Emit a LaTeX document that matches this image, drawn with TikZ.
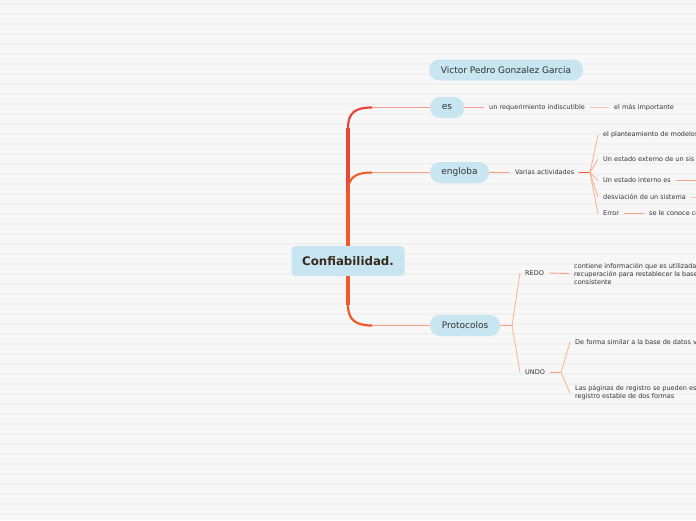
\documentclass[tikz,border=0pt]{standalone}
\usepackage{fontspec}
\setmainfont{DejaVu Sans}
\definecolor{bgc}{HTML}{F7F7F7}
\definecolor{stripec}{HTML}{F1F1F1}
\definecolor{pillc}{HTML}{C7E6F1}
\definecolor{txt}{HTML}{333333}
\definecolor{ctxt}{HTML}{3A2A1E}
\definecolor{trunkA}{HTML}{E8463A}
\definecolor{trunkB}{HTML}{EF5A28}
\definecolor{esl}{HTML}{F49A8E}
\definecolor{esl2}{HTML}{F8C2BA}
\definecolor{enl}{HTML}{F5A282}
\definecolor{fanthick}{HTML}{F05A22}
\definecolor{fanl}{HTML}{F7B49A}
\definecolor{prl}{HTML}{F6A07E}
\definecolor{prfan}{HTML}{F8B89C}
\begin{document}
\begin{tikzpicture}[x=1pt,y=-1pt,
  pill/.style={fill=pillc, rounded corners=10pt, minimum height=21pt, inner xsep=0pt, font=\fontsize{9}{10}\selectfont, text=txt},
  central/.style={fill=pillc, rounded corners=4pt, minimum height=30pt, minimum width=113pt, font=\bfseries\fontsize{11.8}{13}\selectfont, text=ctxt},
  leaf/.style={font=\fontsize{6.5}{8}\selectfont, text=txt, inner xsep=5pt, inner ysep=1pt, anchor=west, align=left},
  thin/.style={line width=0.9pt},
  thk/.style={line width=1.6pt}]
\useasboundingbox (0,0) rectangle (696,520);
\clip (0,0) rectangle (696,520);
\fill[bgc] (0,0) rectangle (696,520);
\foreach \y in {3,13,...,513} \fill[stripec] (0,\y) rectangle (696,\y+1.6);

% nodes
\node[central] (c) at (348,261) {Confiabilidad.};
\node[pill, minimum width=154pt] (v) at (506,70) {Victor Pedro Gonzalez Garcia};
\node[pill, minimum width=34pt] (es) at (447,107.5) {es};
\node[pill, minimum width=59pt] (en) at (459.5,172.5) {engloba};
\node[pill, minimum width=70pt] (pr) at (465,325.5) {Protocolos};

% trunk
\coordinate (tEs) at (348,128);
\coordinate (cEs) at (372,107.5);
\coordinate (tEn) at (348,192);
\coordinate (cEn) at (372,172.5);
\coordinate (tPr) at (348,305);
\coordinate (cPr) at (372,325.5);
\draw[trunkA, line width=3.6pt] (c.north -| tEs) -- (tEs);
\draw[trunkB, line width=3.6pt] (c.north -| tEs) -- (tEn);
\draw[trunkB, line width=3.6pt] (c.south -| tPr) -- (tPr);
\draw[trunkA, line width=2.2pt] (tEs) .. controls (348,112) and (356,107.5) .. (cEs);
\draw[trunkB, line width=2pt] (tEn) .. controls (348,177) and (356,172.5) .. (cEn);
\draw[trunkB, line width=2.2pt] (tPr) .. controls (348,320) and (356,325.5) .. (cPr);
\draw[esl, thin] (cEs) -- (es.west);
\draw[enl, thin] (cEn) -- (en.west);
\draw[prl, thin] (cPr) -- (pr.west);

% es branch
\node[leaf] (req) at (484,107.5) {un requerimiento indiscutible};
\node[leaf] (imp) at (609,107.5) {el más importante};
\draw[esl, thin] (es.east) -- (req.west);
\draw[esl2, thin] (req.east) -- (imp.west);

% engloba branch
\node[leaf] (va) at (510,172.5) {Varias actividades};
\coordinate (fa) at (590,172.5);
\draw[enl, thin] (en.east) -- (va.west);
\draw[fanthick, thk] (va.east) -- (fa);
\node[leaf] (pl) at (598,135) {el planteamiento de modelos};
\node[leaf] (ext) at (598,159) {Un estado externo de un sis};
\node[leaf] (int) at (598,180.5) {Un estado interno es};
\node[leaf] (des) at (598,197) {desviación de un sistema};
\node[leaf] (err) at (598,213.5) {Error};
\node[leaf] (con) at (644,213.5) {se le conoce co};
\coordinate (intx) at (700,180.5);
\coordinate (desx) at (700,197);
\foreach \n in {pl,ext,int,des,err} \draw[fanl, thin] (fa) -- (\n.west);
\draw[enl, thin] (int.east) -- (intx);
\draw[esl2, thin] (des.east) -- (desx);
\draw[enl, thin] (err.east) -- (con.west);

% Protocolos branch
\coordinate (fp) at (512,325.5);
\draw[prl, thk] (pr.east) -- (fp);
\node[leaf] (redo) at (520,273) {REDO};
\node[leaf] (undo) at (520,372.5) {UNDO};
\draw[prfan, thin] (fp) -- (redo.west);
\draw[prfan, thin] (fp) -- (undo.west);
\node[leaf] (info) at (569,273.5) {contiene información que es utilizada\\recuperación para restablecer la base\\consistente};
\draw[prl, thin] (redo.east) -- (info.west);
\coordinate (fu) at (561,372.5);
\draw[prl, thin] (undo.east) -- (fu);
\node[leaf] (sim) at (570,342) {De forma similar a la base de datos v};
\node[leaf] (pag) at (570,393) {Las páginas de registro se pueden es\\registro estable de dos formas};
\draw[prfan, thin] (fu) -- (sim.west);
\draw[prfan, thin] (fu) -- (pag.west);
\end{tikzpicture}
\end{document}
